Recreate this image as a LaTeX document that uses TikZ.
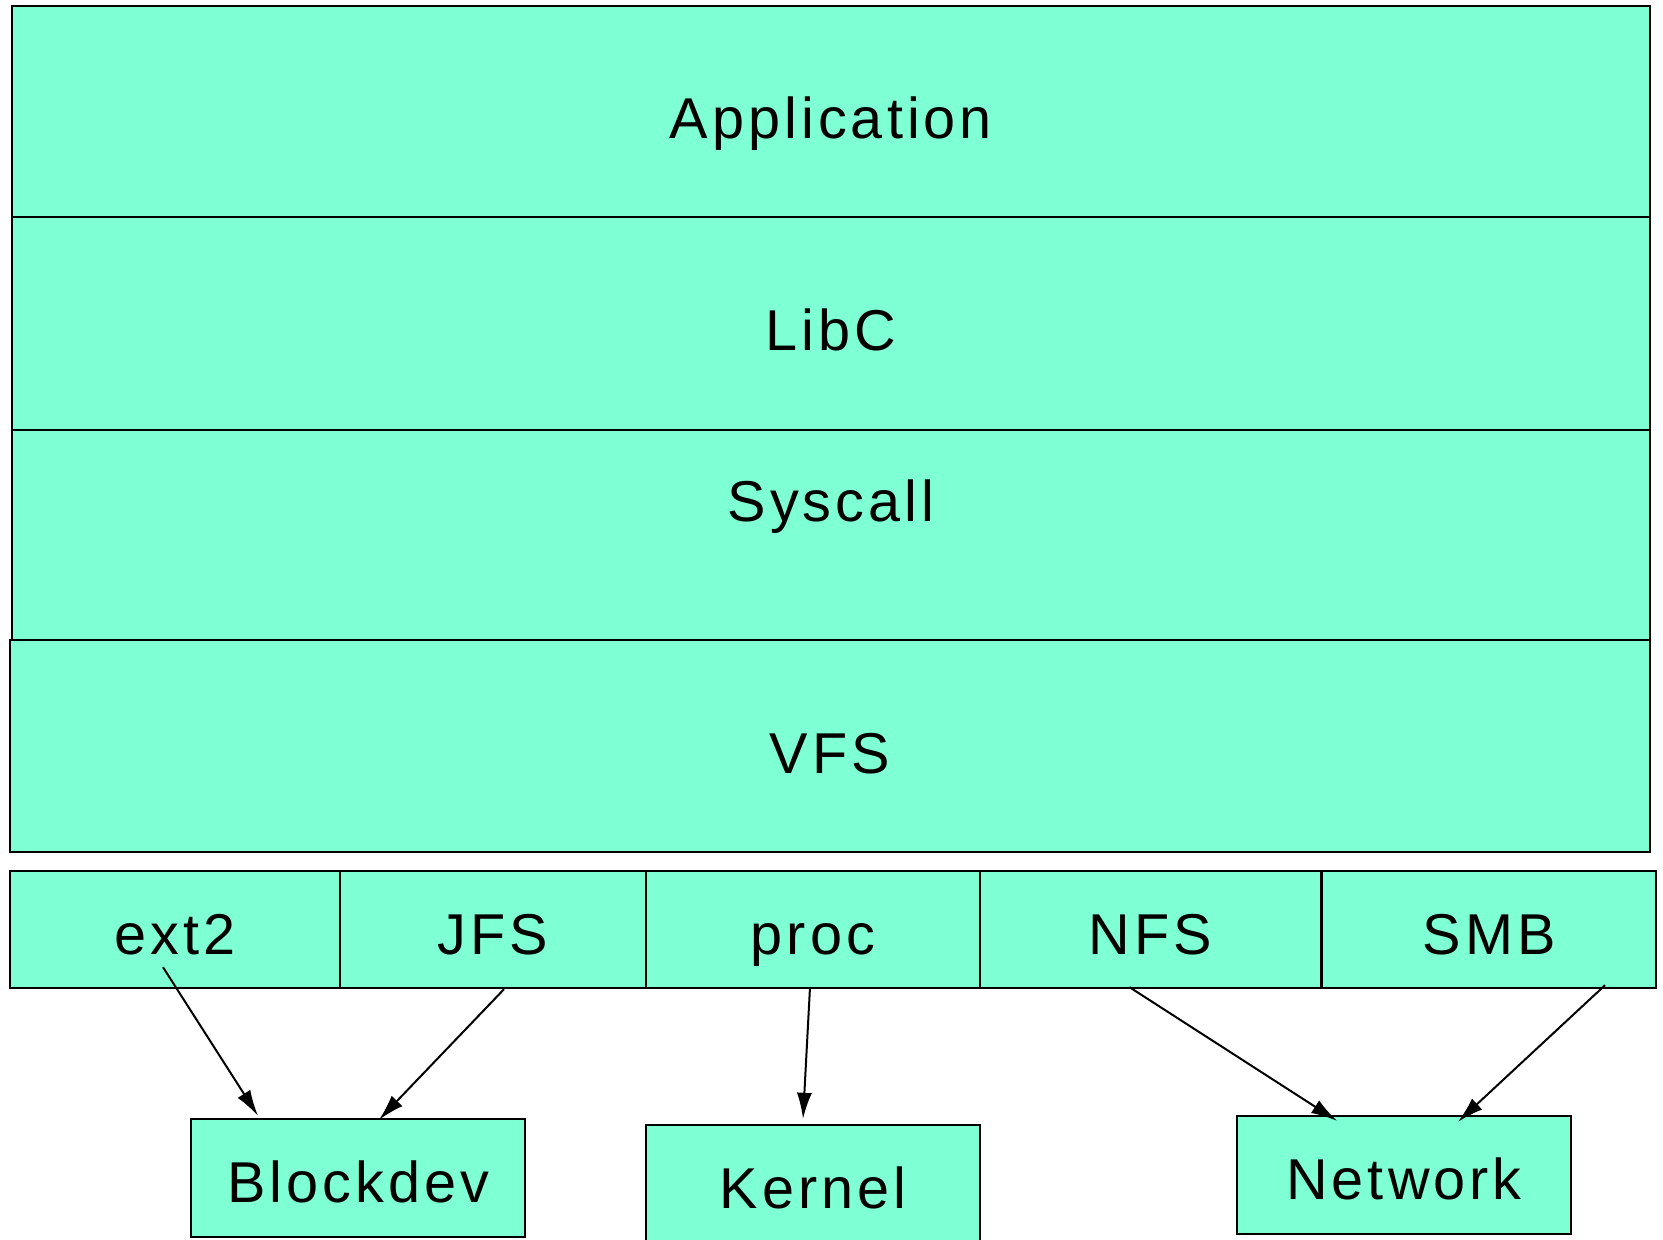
\documentclass[tikz,border=0pt]{standalone}
\usepackage{fontspec}
\setmainfont{Liberation Sans}[LetterSpace=7]
\usetikzlibrary{arrows.meta}
\definecolor{LayerGreen}{HTML}{7FFFD4}
\tikzset{layer/.style={draw,fill=LayerGreen,line width=1.2pt,inner sep=0pt,minimum width=819pt},
  fsbox/.style={draw,fill=LayerGreen,line width=1.2pt,inner sep=0pt,minimum height=58.5pt,text height=24.5pt},
  link/.style={line width=1pt,-{Latex[length=13pt,width=7.5pt]}}}

\begin{document}
\begin{tikzpicture}[x=.5pt,y=-.5pt,font=\fontsize{28.8}{34}\selectfont,
  every node/.append style={text height=27pt,text depth=0pt}]
\useasboundingbox (0,0) rectangle (1663,1240);
\node[layer,minimum height=105.5pt] (app) at (831,111.5) {Application};
\node[layer,minimum height=106.5pt] (libc) at (831,323.5) {LibC};
\node[layer,minimum height=105pt] (sys) at (831,535) {};
\node (syslab) at (831,494) {Syscall};
\node[layer,minimum width=820pt,minimum height=106pt] (vfs) at (830,746) {VFS};
% file systems
\node[fsbox,minimum width=165pt] (ext2) at (175,929.5) {ext2};
\node[fsbox,minimum width=153pt] (jfs) at (493,929.5) {JFS};
\node[fsbox,minimum width=167pt] (proc) at (813,929.5) {proc};
\node[fsbox,minimum width=170.5pt] (nfs) at (1150.5,929.5) {NFS};
\node[fsbox,minimum width=167pt] (smb) at (1489,929.5) {SMB};
% back ends
\node[fsbox,minimum width=167pt,minimum height=59pt] (blk) at (358,1178) {Blockdev};
\node[fsbox,minimum width=167pt,minimum height=59pt] (kern) at (813,1184) {Kernel};
\node[fsbox,minimum width=167pt,minimum height=59pt] (net) at (1404,1175) {Network};
\draw[link] ([shift={(-12,-22)}]ext2.south) -- ([shift={(-100,-2)}]blk.north);
\draw[link] ([shift={(11,0)}]jfs.south) -- ([shift={(21,2)}]blk.north);
\draw[link] ([shift={(-3,-2)}]proc.south) -- ([shift={(-10,-5)}]kern.north);
\draw[link] ([shift={(-21,-2)}]nfs.south) -- ([shift={(-67,6)}]net.north);
\draw[link] ([shift={(116,-4)}]smb.south) -- ([shift={(54,7)}]net.north);
\end{tikzpicture}
\end{document}
